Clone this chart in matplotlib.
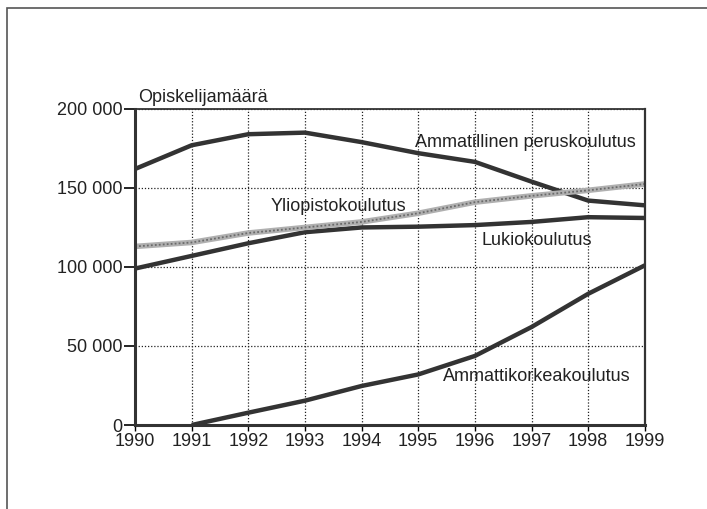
import matplotlib.pyplot as plt
from matplotlib.patches import Rectangle

years = [1990, 1991, 1992, 1993, 1994, 1995, 1996, 1997, 1998, 1999]
amk_years = years[1:]

ammatillinen = [162000, 177000, 184000, 185000, 179000, 172000, 166500, 154000, 142000, 139000]
yliopisto = [113000, 115500, 121500, 125000, 128500, 134000, 141000, 145000, 148500, 152500]
lukio = [99000, 107000, 115000, 122000, 125000, 125500, 126500, 128500, 131500, 131000]
amk = [0, 7800, 15400, 24700, 32000, 43700, 62000, 83000, 101000]

yticks = [0, 50000, 100000, 150000, 200000]
ytick_labels = ["0", "50 000", "100 000", "150 000", "200 000"]

plt.rcParams['font.family'] = ['Liberation Sans', 'DejaVu Sans']

fig = plt.figure(figsize=(7.07, 5.09), dpi=100)
ax = fig.add_axes([0.191, 0.165, 0.721, 0.621])

# outer frame (only top and left edges show in the crop)
fig.patches.append(Rectangle((0.010, -0.5), 3.0, 1.484, transform=fig.transFigure,
                             fill=False, edgecolor='#555555', linewidth=1.2))

ax.plot(years, ammatillinen, color='#333333', lw=3.2, solid_capstyle='butt')
ax.plot(years, lukio, color='#333333', lw=3.2, solid_capstyle='butt')
ax.plot(amk_years, amk, color='#333333', lw=3.2, solid_capstyle='butt')
# patterned grey line for Yliopistokoulutus
ax.plot(years, yliopisto, color='#b0b0b0', lw=4, solid_capstyle='butt')
ax.plot(years, yliopisto, color='#6a6a6a', lw=1.3, ls=(0, (1, 1.2)))

ax.set_xlim(1990, 1999)
ax.set_ylim(0, 200000)
ax.set_xticks(years)
ax.set_xticklabels([str(y) for y in years], fontsize=13, color='#222222')
ax.set_yticks(yticks)
ax.set_yticklabels(ytick_labels, fontsize=13, color='#222222')
ax.grid(True, color='#222222', ls=(0, (1, 1.5)), lw=0.9)
ax.tick_params(axis='y', length=8, width=1.2, pad=1)
ax.tick_params(axis='x', length=4, width=1.0, pad=2)

ax.spines['left'].set_linewidth(2.2)
ax.spines['bottom'].set_linewidth(2.2)
ax.spines['top'].set_linewidth(1.3)
ax.spines['right'].set_linewidth(1.6)
for s in ax.spines.values():
    s.set_color('#333333')

ax.text(1990.05, 202000, "Opiskelijamäärä", fontsize=13, ha='left', va='bottom', color='#222222')
ax.text(1996.9, 178500, "Ammatillinen peruskoulutus", fontsize=13, ha='center', va='center', color='#222222')
ax.text(1993.6, 138000, "Yliopistokoulutus", fontsize=13, ha='center', va='center', color='#222222')
ax.text(1997.1, 117000, "Lukiokoulutus", fontsize=13, ha='center', va='center', color='#222222')
ax.text(1997.1, 31000, "Ammattikorkeakoulutus", fontsize=13, ha='center', va='center', color='#222222')

fig.savefig("out.png", dpi=100)
